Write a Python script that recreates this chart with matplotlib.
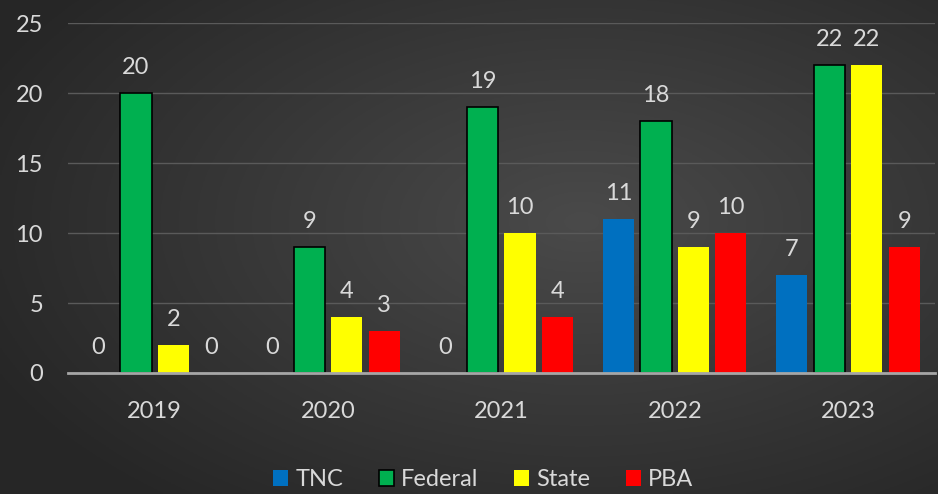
import numpy as np
import matplotlib
matplotlib.use("Agg")
import matplotlib.pyplot as plt

# --- podaci ---
godine = ["2019", "2020", "2021", "2022", "2023"]
serije = ["TNC", "Federal", "State", "PBA"]
tnc = [0, 0, 0, 11, 7]
federal = [20, 9, 19, 18, 22]
state = [2, 4, 10, 9, 22]
pba = [0, 3, 4, 10, 9]
boje = ["#0070C0", "#00B050", "#FFFF00", "#FF0000"]

plt.rcParams["font.family"] = ["Lato", "DejaVu Sans"]
tekst = "#d9d9d9"
vel = 17

fig = plt.figure(figsize=(9.38, 4.94), dpi=100)

# --- pozadina sa gradijentom ---
bg = fig.add_axes([0, 0, 1, 1])
yy, xx = np.mgrid[0:1:200j, 0:1:380j]
r = np.sqrt(((xx - 0.62) / 0.85) ** 2 + ((yy - 0.45) / 0.9) ** 2)
sivo = np.clip(0.29 - 0.17 * r, 0.15, 0.3)
bg.imshow(np.dstack([sivo, sivo, sivo]), aspect="auto", extent=[0, 1, 0, 1])
bg.axis("off")

ax = fig.add_axes([0.0725, 0.245, 0.924, 0.708])
ax.patch.set_alpha(0)

x = np.arange(len(godine))
korak = 0.216
sirina = 0.18
vrednosti = [tnc, federal, state, pba]
for i, (ime, vr, boja) in enumerate(zip(serije, vrednosti, boje)):
    pomak = (i - 1.5) * korak
    ivica = "black" if ime == "Federal" else boja
    bars = ax.bar(x + pomak, vr, sirina, color=boja, edgecolor=ivica,
                  linewidth=1.2 if ime == "Federal" else 0, label=ime, zorder=3)
    for b, v in zip(bars, vr):
        ax.annotate(str(v), (b.get_x() + b.get_width() / 2, v),
                    xytext=(0, 11), textcoords="offset points",
                    ha="center", va="bottom", color=tekst, fontsize=vel)

ax.set_xlim(-0.5, 4.5)
ax.set_ylim(0, 25)
ax.set_yticks(range(0, 26, 5))
ax.set_xticks(x)
ax.set_xticklabels(godine)
ax.tick_params(colors=tekst, labelsize=vel, length=0)
ax.tick_params(axis="y", pad=18)
ax.tick_params(axis="x", pad=20)
ax.grid(axis="y", color="#5a5a5a", linewidth=1, zorder=0)
for s in ["top", "right", "left"]:
    ax.spines[s].set_visible(False)
ax.spines["bottom"].set_color("#a6a6a6")
ax.spines["bottom"].set_linewidth(2)
ax.spines["bottom"].set_zorder(4)

leg = fig.legend(loc="lower center", bbox_to_anchor=(0.515, -0.035), ncol=4,
                 frameon=False, fontsize=vel, handlelength=0.65, handleheight=0.65,
                 handletextpad=0.3, columnspacing=1.5)
for t in leg.get_texts():
    t.set_color(tekst)

fig.savefig("out.png", dpi=100)
